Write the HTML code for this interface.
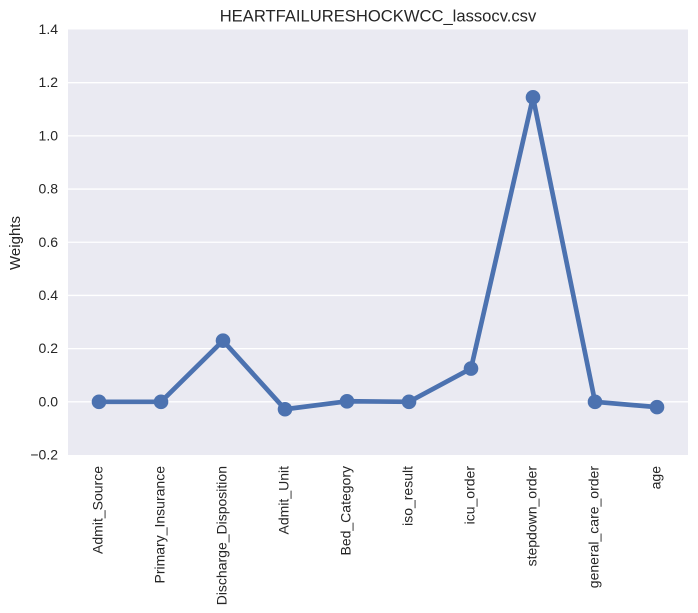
<!DOCTYPE html>
<html>
<head>
<meta charset="utf-8">
<style>
html,body{margin:0;padding:0;background:#fff;width:698px;height:613px;overflow:hidden}
svg{display:block}
text{font-family:"Liberation Sans",Arial,sans-serif;fill:#262626}
</style>
</head>
<body>
<svg id="chart" width="698" height="613" viewBox="0 0 698 613" xmlns="http://www.w3.org/2000/svg"></svg>
<script>
const categories = ["Admit_Source","Primary_Insurance","Discharge_Disposition","Admit_Unit","Bed_Category","iso_result","icu_order","stepdown_order","general_care_order","age"];
const weights = [0, 0, 0.23, -0.028, 0.002, 0, 0.125, 1.145, 0, -0.02];
const yTicks = [-0.2, 0, 0.2, 0.4, 0.6, 0.8, 1.0, 1.2, 1.4];
const chartTitle = "HEARTFAILURESHOCKWCC_lassocv.csv";
const yLabel = "Weights";

const NS = "http://www.w3.org/2000/svg";
const svg = document.getElementById("chart");
const plot = {left: 68, right: 688, top: 29.5, bottom: 455};
const yMin = -0.2, yMax = 1.4;

function xScale(i) {
  return plot.left + (i + 0.5) * (plot.right - plot.left) / categories.length;
}
function yScale(v) {
  return plot.bottom - (v - yMin) * (plot.bottom - plot.top) / (yMax - yMin);
}
function make(tag, attrs, text) {
  const el = document.createElementNS(NS, tag);
  for (const k in attrs) el.setAttribute(k, attrs[k]);
  if (text !== undefined) el.textContent = text;
  svg.appendChild(el);
  return el;
}
function tickText(v) {
  return v < 0 ? "\u2212" + Math.abs(v).toFixed(1) : v.toFixed(1);
}

const bg = make("rect", {x: plot.left, y: plot.top, width: plot.right - plot.left, height: plot.bottom - plot.top, fill: "#eaeaf2"});



yTicks.forEach(function (t) {
  const y = yScale(t);
  if (t > yMin && t < yMax) {
    const g = make("line", {x1: plot.left, x2: plot.right, y1: y, y2: y, stroke: "#ffffff", "stroke-width": 1.3});
    
    
  }
  const lab = make("text", {x: 58, y: y + 4.5, "text-anchor": "end", "font-size": 14}, tickText(t));
  
  
});

const linePoints = weights.map(function (v, i) { return xScale(i) + "," + yScale(v); }).join(" ");
const series = make("polyline", {points: linePoints, fill: "none", stroke: "#4c72b0", "stroke-width": 4.7, "stroke-linejoin": "round", "stroke-linecap": "round"});



weights.forEach(function (v, i) {
  const p = make("circle", {cx: xScale(i), cy: yScale(v), r: 7.3, fill: "#4c72b0"});
  
  
});

categories.forEach(function (c, i) {
  const x = xScale(i) + 3.5;
  const lab = make("text", {x: x, y: 466, "text-anchor": "end", "font-size": 14, transform: "rotate(-90 " + x + " 466)"}, c);
  
  
});

const title = make("text", {x: 378, y: 21.5, "text-anchor": "middle", "font-size": 16.6}, chartTitle);



const yt = make("text", {x: 20, y: 243, "text-anchor": "middle", "font-size": 15, transform: "rotate(-90 20 243)"}, yLabel);


</script>
</body>
</html>
